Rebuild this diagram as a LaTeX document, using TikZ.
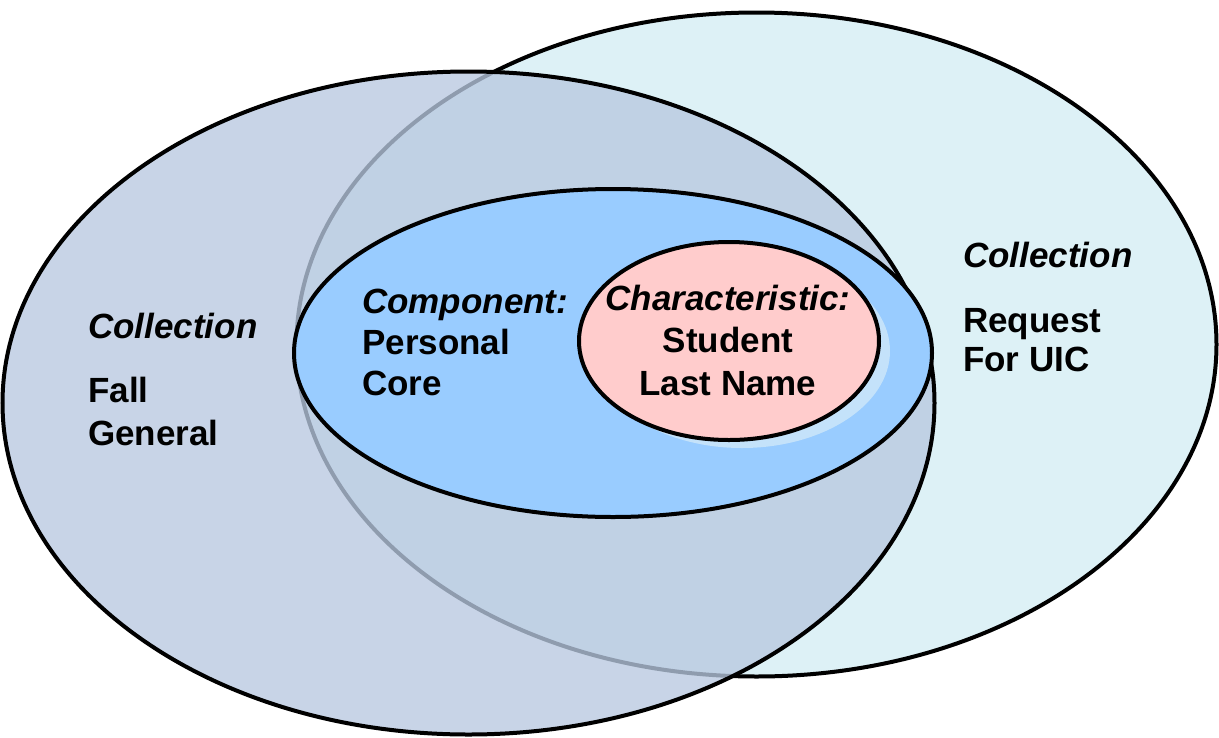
\documentclass[tikz,border=0pt]{standalone}
\usepackage{fontspec}
\setmainfont{Liberation Sans}
\definecolor{rightfill}{HTML}{DDF1F6}
\definecolor{leftfill}{HTML}{B8C8E0}
\definecolor{compfill}{HTML}{99CCFF}
\definecolor{charfill}{HTML}{FFCCCC}
\definecolor{glowfill}{HTML}{C4E2FA}
\begin{document}
\begin{tikzpicture}[x=1pt,y=-1pt]
\tikzset{
  ring/.style={draw=black, line width=4pt},
  lbl/.style={font=\fontsize{35}{40}\selectfont\bfseries, inner sep=0pt, anchor=base west},
  ilbl/.style={lbl, font=\fontsize{35}{40}\selectfont\bfseries\itshape},
  clbl/.style={lbl, anchor=base},
  cilbl/.style={ilbl, anchor=base}
}
\useasboundingbox (0,0) rectangle (1219,737);
% right collection
\path[ring, fill=rightfill] (756.5,344.5) ellipse [x radius=460pt, y radius=332pt];
% left collection (translucent)
\path[ring, fill=leftfill, fill opacity=0.78] (468.5,403) ellipse [x radius=466pt, y radius=331.5pt];
% component
\path[ring, fill=compfill] (613,353) ellipse [x radius=319pt, y radius=164pt];
% glow
\path[fill=glowfill] (742,351) ellipse [x radius=148pt, y radius=97pt];
% characteristic
\path[ring, fill=charfill] (729,341) ellipse [x radius=150pt, y radius=99pt];
% texts
\node[ilbl] (lc) at (88,338) {Collection};
\node[lbl] (lf) at (88,402) {Fall};
\node[lbl] (lg) at (88,445) {General};
\node[ilbl] (cc) at (362,313) {Component:};
\node[lbl] (cp) at (362,354) {Personal};
\node[lbl] (cr) at (362,395) {Core};
\node[cilbl] (hc) at (728,310) {Characteristic:};
\node[clbl] (hs) at (728,352) {Student};
\node[clbl] (hl) at (728,395) {Last Name};
\node[ilbl] (rc) at (963,267) {Collection};
\node[lbl] (rr) at (963,332) {Request};
\node[lbl] (ru) at (963,371) {For UIC};
\end{tikzpicture}
\end{document}
